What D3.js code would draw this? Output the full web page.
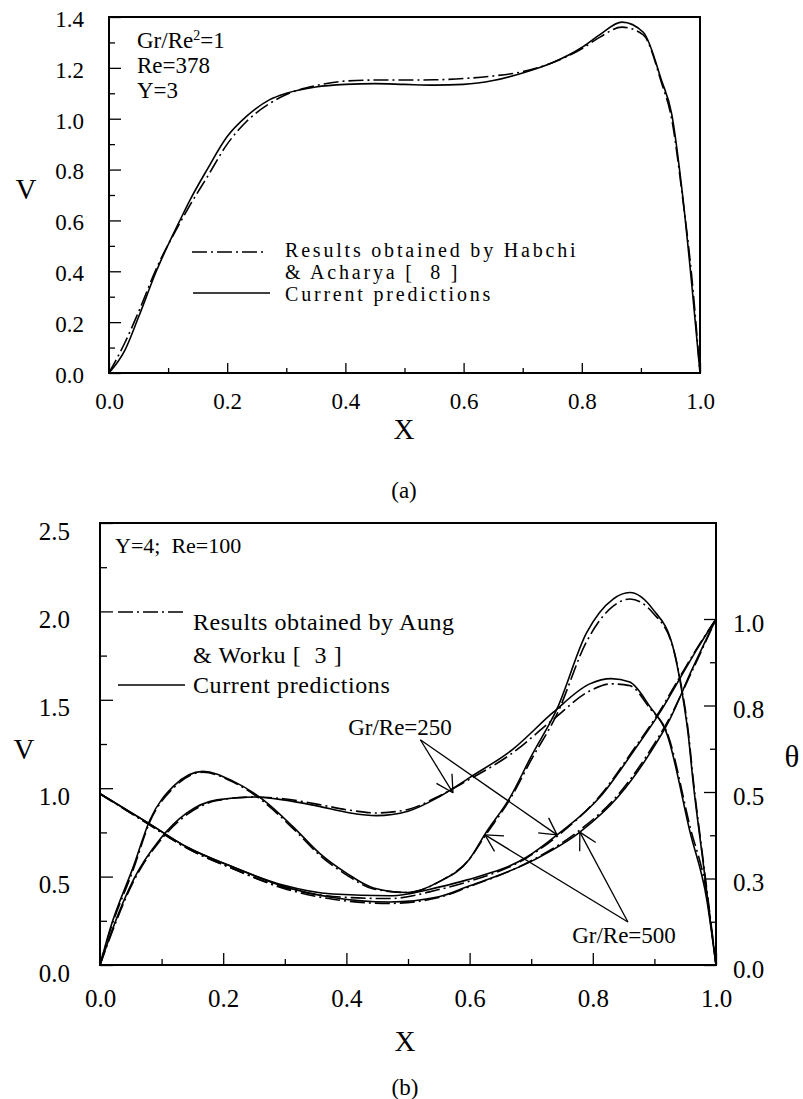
<!DOCTYPE html>
<html>
<head>
<meta charset="utf-8">
<script src="https://cdn.jsdelivr.net/npm/d3@7"></script>
<style>
  body { margin: 0; background: #fff; }
  text { font-family: "Liberation Serif", "Times New Roman", serif; fill: #000; }
</style>
</head>
<body>
<div id="chart"></div>
<script>

// ---- panel (a): V profile, Y=3 ----
const xTop = [0, 0.027, 0.05, 0.08, 0.12, 0.137, 0.166, 0.2, 0.233, 0.272, 0.3, 0.35, 0.4, 0.45, 0.5, 0.55, 0.6, 0.65, 0.7, 0.75, 0.8, 0.83, 0.868, 0.904, 0.935, 0.952, 0.97, 0.986, 1.0];
const vTopCurrent = [0, 0.09, 0.22, 0.40, 0.60, 0.68, 0.80, 0.93, 1.01, 1.075, 1.10, 1.125, 1.135, 1.138, 1.135, 1.132, 1.135, 1.15, 1.18, 1.22, 1.28, 1.33, 1.38, 1.34, 1.15, 1.02, 0.71, 0.35, 0];
const vTopHabchi = [0, 0.12, 0.24, 0.41, 0.59, 0.66, 0.77, 0.90, 0.99, 1.06, 1.095, 1.13, 1.148, 1.152, 1.152, 1.153, 1.158, 1.168, 1.185, 1.22, 1.275, 1.32, 1.36, 1.33, 1.14, 1.0, 0.70, 0.38, 0];

const topYTicks = [0, 0.2, 0.4, 0.6, 0.8, 1.0, 1.2, 1.4];
const topYMinor = [0.1, 0.3, 0.5, 0.7, 0.9, 1.1, 1.3];
const xTicks = [0, 0.2, 0.4, 0.6, 0.8, 1.0];
const xMinor = [0.1, 0.3, 0.5, 0.7, 0.9];

// ---- panel (b): V and theta, Y=4, Re=100 ----
// Gr/Re=500 velocity
const xV500 = [0, 0.016, 0.054, 0.081, 0.119, 0.167, 0.216, 0.265, 0.314, 0.357, 0.40, 0.444, 0.5, 0.55, 0.6, 0.625, 0.666, 0.7, 0.742, 0.79, 0.833, 0.86, 0.898, 0.93, 0.942, 0.955, 0.963, 0.98, 0.99, 1.0];
const v500Current = [0, 0.2, 0.555, 0.82, 1.01, 1.095, 1.04, 0.934, 0.78, 0.63, 0.52, 0.436, 0.41, 0.47, 0.6, 0.74, 0.95, 1.18, 1.45, 1.88, 2.07, 2.107, 2.01, 1.8, 1.6, 1.3, 1.03, 0.555, 0.27, 0];
const v500Aung = [0, 0.19, 0.54, 0.81, 1.0, 1.09, 1.035, 0.925, 0.77, 0.62, 0.51, 0.43, 0.41, 0.47, 0.6, 0.73, 0.94, 1.16, 1.42, 1.83, 2.03, 2.07, 1.99, 1.8, 1.61, 1.32, 1.05, 0.57, 0.29, 0];

// Gr/Re=250 velocity
const xV250 = [0, 0.02, 0.054, 0.097, 0.141, 0.19, 0.249, 0.298, 0.352, 0.406, 0.449, 0.5, 0.55, 0.6, 0.67, 0.736, 0.795, 0.83, 0.86, 0.893, 0.92, 0.958, 0.985, 1.0];
const v250Current = [0, 0.2, 0.48, 0.71, 0.86, 0.934, 0.95, 0.934, 0.90, 0.86, 0.845, 0.87, 0.95, 1.06, 1.22, 1.43, 1.59, 1.62, 1.6, 1.46, 1.31, 0.75, 0.37, 0];
const v250Aung = [0, 0.19, 0.47, 0.70, 0.85, 0.93, 0.95, 0.94, 0.91, 0.875, 0.86, 0.88, 0.955, 1.05, 1.2, 1.39, 1.55, 1.59, 1.58, 1.45, 1.32, 0.78, 0.40, 0];

// Gr/Re=250 temperature
const xT250 = [0, 0.076, 0.141, 0.216, 0.297, 0.378, 0.47, 0.55, 0.596, 0.693, 0.742, 0.812, 0.865, 0.909, 0.942, 0.97, 1.0];
const t250Current = [0.495, 0.413, 0.341, 0.283, 0.231, 0.205, 0.2, 0.225, 0.246, 0.312, 0.376, 0.486, 0.615, 0.73, 0.83, 0.915, 1.0];
const t250Aung = [0.495, 0.41, 0.338, 0.278, 0.225, 0.198, 0.192, 0.218, 0.24, 0.31, 0.372, 0.49, 0.62, 0.735, 0.835, 0.918, 1.0];

// Gr/Re=500 temperature
const xT500 = [0, 0.076, 0.141, 0.216, 0.297, 0.378, 0.47, 0.55, 0.596, 0.704, 0.779, 0.841, 0.893, 0.925, 0.96, 1.0];
const t500Current = [0.495, 0.413, 0.341, 0.283, 0.228, 0.195, 0.182, 0.197, 0.226, 0.303, 0.384, 0.486, 0.613, 0.71, 0.85, 1.0];
const t500Aung = [0.495, 0.41, 0.338, 0.278, 0.222, 0.19, 0.178, 0.195, 0.224, 0.305, 0.39, 0.492, 0.62, 0.715, 0.845, 1.0];

const botYTicks = [0, 0.5, 1.0, 1.5, 2.0, 2.5];
const botYMinor = [0.25, 0.75, 1.25, 1.75, 2.25];
const thetaTicks = [0, 0.25, 0.5, 0.75, 1.0];
const thetaMinor = [0.125, 0.375, 0.625, 0.875];

const dashDot = '15,4,2,4';

let svg = d3.select('#chart').append('svg')
    .attr('width', 803)
    .attr('height', 1099);

let zip = (xs, ys) => xs.map((x, i) => ({x: x, y: ys[i]}));

// draws inward ticks (major + minor) for one side of a frame
function addTicks(g, axisGen, scale, translate, major, minor, majorLen, minorLen, pad, fmt, size, shift) {
    g.append('g')
        .attr('transform', translate)
        .call(axisGen(scale).tickValues(minor).tickSize(-minorLen).tickFormat(''))
        .call(a => a.select('.domain').remove())
        .selectAll('line').attr('stroke-width', 1.3);

    let ax = g.append('g')
        .attr('transform', translate)
        .call(axisGen(scale).tickValues(major).tickSize(-majorLen).tickPadding(pad).tickFormat(fmt));
    ax.select('.domain').remove();
    ax.selectAll('line').attr('stroke-width', 1.3);
    ax.selectAll('text')
        .style('font-family', '"Liberation Serif", "Times New Roman", serif')
        .style('font-size', size + 'px')
        .attr('transform', `translate(0, ${shift})`);
}

function drawLine(g, x, y, pts, dashed) {
    g.append('path')
        .datum(pts)
        .attr('fill', 'none')
        .attr('stroke', '#000')
        .attr('stroke-width', 1.6)
        .attr('stroke-dasharray', dashed ? dashDot : null)
        .attr('d', d3.line()
            .x(d => x(d.x))
            .y(d => y(d.y))
            .curve(d3.curveMonotoneX));
}

function frame(g, x, y) {
    g.append('rect')
        .attr('x', x.range()[0])
        .attr('y', y.range()[1])
        .attr('width', x.range()[1] - x.range()[0])
        .attr('height', y.range()[0] - y.range()[1])
        .attr('fill', 'none')
        .attr('stroke', '#000')
        .attr('stroke-width', 2);
}

function label(g, x, y, txt, size, anchor) {
    return g.append('text')
        .attr('x', x)
        .attr('y', y)
        .attr('text-anchor', anchor || 'start')
        .style('font-size', size + 'px')
        .text(txt);
}

// ================= panel (a) =================
let xA = d3.scaleLinear().domain([0, 1]).range([109, 700]);
let yA = d3.scaleLinear().domain([0, 1.4]).range([373, 17]);
let gA = svg.append('g');

drawLine(gA, xA, yA, zip(xTop, vTopHabchi), true);
drawLine(gA, xA, yA, zip(xTop, vTopCurrent), false);

addTicks(gA, d3.axisLeft, yA, 'translate(109,0)', topYTicks, topYMinor, 12, 6, 25, d3.format('.1f'), 23, 2);
addTicks(gA, d3.axisBottom, xA, 'translate(0,373)', xTicks, xMinor, 10, 5, 20, d3.format('.1f'), 23, 0);
frame(gA, xA, yA);

// annotation
let ann = label(gA, 137, 48, 'Gr/Re', 23);
ann.append('tspan').attr('dy', -8).style('font-size', '14px').text('2');
ann.append('tspan').attr('dy', 8).text('=1');
label(gA, 137, 73, 'Re=378', 23);
label(gA, 137, 98, 'Y=3', 23);

// legend
gA.append('line').attr('x1', 192).attr('x2', 267).attr('y1', 252).attr('y2', 252)
    .attr('stroke', '#000').attr('stroke-width', 1.6).attr('stroke-dasharray', dashDot);
gA.append('line').attr('x1', 193).attr('x2', 270).attr('y1', 293).attr('y2', 293)
    .attr('stroke', '#000').attr('stroke-width', 1.6);
label(gA, 285, 257, 'Results obtained by Habchi', 20).style('letter-spacing', '2.8px');
label(gA, 285, 279, '& Acharya [  8 ]', 20).style('letter-spacing', '2.8px').style('white-space', 'pre');
label(gA, 285, 301, 'Current predictions', 20).style('letter-spacing', '2.8px');

label(gA, 26, 199, 'V', 29, 'middle');
label(gA, 404, 439, 'X', 29, 'middle');
label(gA, 404, 498, '(a)', 23, 'middle');

// ================= panel (b) =================
let xB = d3.scaleLinear().domain([0, 1]).range([100, 716]);
let yB = d3.scaleLinear().domain([0, 2.5]).range([965, 523]);
let tB = d3.scaleLinear().domain([0, 1]).range([965, 619]);
let gB = svg.append('g');

drawLine(gB, xB, yB, zip(xV500, v500Aung), true);
drawLine(gB, xB, yB, zip(xV500, v500Current), false);
drawLine(gB, xB, yB, zip(xV250, v250Aung), true);
drawLine(gB, xB, yB, zip(xV250, v250Current), false);
drawLine(gB, xB, tB, zip(xT250, t250Aung), true);
drawLine(gB, xB, tB, zip(xT250, t250Current), false);
drawLine(gB, xB, tB, zip(xT500, t500Aung), true);
drawLine(gB, xB, tB, zip(xT500, t500Current), false);

addTicks(gB, d3.axisLeft, yB, 'translate(100,0)', botYTicks, botYMinor, 13, 7, 30, d3.format('.1f'), 25, 8);
addTicks(gB, d3.axisRight, tB, 'translate(716,0)', thetaTicks, thetaMinor, 12, 6, 17, d3.format('.1f'), 25, 4);
addTicks(gB, d3.axisBottom, xB, 'translate(0,965)', xTicks, xMinor, 12, 6, 24, d3.format('.1f'), 25, 0);
frame(gB, xB, yB);

label(gB, 115, 553, 'Y=4;  Re=100', 22).style('white-space', 'pre');

gB.append('line').attr('x1', 118).attr('x2', 185).attr('y1', 612).attr('y2', 612)
    .attr('stroke', '#000').attr('stroke-width', 1.6).attr('stroke-dasharray', dashDot);
gB.append('line').attr('x1', 118).attr('x2', 185).attr('y1', 685).attr('y2', 685)
    .attr('stroke', '#000').attr('stroke-width', 1.6);
label(gB, 193, 630, 'Results obtained by Aung', 24).style('letter-spacing', '0.6px');
label(gB, 193, 663, '& Worku [  3 ]', 24).style('letter-spacing', '0.6px').style('white-space', 'pre');
label(gB, 193, 693, 'Current predictions', 24).style('letter-spacing', '0.6px');

// arrows for Gr/Re labels (tips sit on the curves, in data units)
const arrow250Base = {x: 0.52, v: 1.274};
const arrow250Tips = [{x: 0.573, v: 0.974}, {x: 0.742, t: 0.376}];
const arrow500Base = {x: 0.857, v: 0.243};
const arrow500Tips = [{x: 0.625, v: 0.736}, {x: 0.779, t: 0.384}];

function arrows(base, tips) {
    let bx = xB(base.x), by = yB(base.v);
    tips.forEach(tp => {
        let tx = xB(tp.x);
        let ty = tp.v !== undefined ? yB(tp.v) : tB(tp.t);
        gB.append('line').attr('x1', bx).attr('y1', by).attr('x2', tx).attr('y2', ty)
            .attr('stroke', '#000').attr('stroke-width', 1.3);
        let ang = Math.atan2(by - ty, bx - tx);
        [-0.5, 0.5].forEach(da => {
            gB.append('line')
                .attr('x1', tx).attr('y1', ty)
                .attr('x2', tx + 19 * Math.cos(ang + da))
                .attr('y2', ty + 19 * Math.sin(ang + da))
                .attr('stroke', '#000').attr('stroke-width', 1.3);
        });
    });
}
arrows(arrow250Base, arrow250Tips);
arrows(arrow500Base, arrow500Tips);

label(gB, 400, 735, 'Gr/Re=250', 23, 'middle');
label(gB, 624, 943, 'Gr/Re=500', 23, 'middle');

label(gB, 24, 759, 'V', 29, 'middle');
label(gB, 792, 767, 'θ', 31, 'middle');
label(gB, 405, 1051, 'X', 29, 'middle');
label(gB, 405, 1095, '(b)', 23, 'middle');

</script>
</body>
</html>
